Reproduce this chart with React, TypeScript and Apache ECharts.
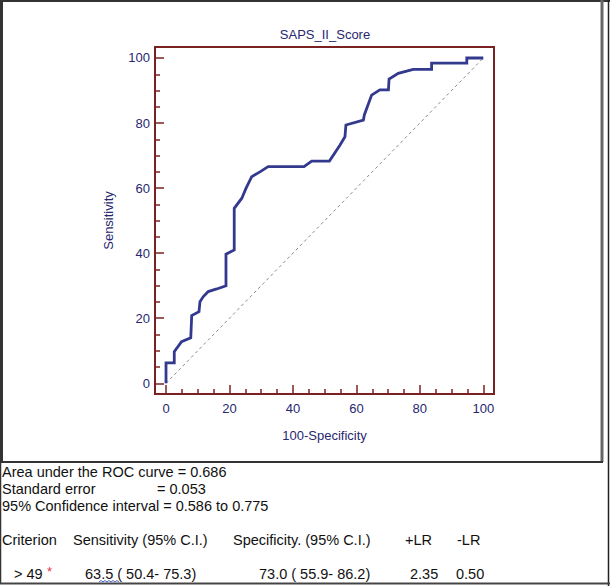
import React, { useEffect, useRef } from "react";
import * as echarts from "echarts";

const chartTitle = "SAPS_II_Score";
const xAxisName = "100-Specificity";
const yAxisName = "Sensitivity";

// ROC curve points (100-Specificity, Sensitivity)
const rocX = [0, 0, 2.6, 2.6, 4.9, 7.8, 8.1, 10.4, 10.7, 11.7, 13.3, 16.0, 18.9, 18.9, 21.5, 21.5, 23.9, 25.2, 27.0, 29.6, 32.2, 43.5, 45.9, 51.5, 54.8, 56.4, 56.7, 62.2, 62.5, 64.8, 67.4, 70.1, 70.3, 73.2, 77.9, 83.7, 83.7, 94.8, 94.8, 100];
const rocY = [0, 6.3, 6.3, 9.7, 12.8, 14.0, 20.8, 22.0, 25.1, 26.6, 28.2, 29.0, 30.0, 39.7, 41.0, 53.8, 56.9, 59.9, 63.5, 65.0, 66.6, 66.6, 68.3, 68.3, 73.2, 75.8, 79.4, 80.9, 82.5, 88.6, 90.2, 90.2, 93.5, 95.3, 96.5, 96.5, 98.4, 98.4, 100, 100];

// reference (chance) line
const diagX = [0, 100];
const diagY = [0, 100];

// tick positions
const majorTicks = [0, 20, 40, 60, 80, 100];
const minorTicks = [5, 10, 15, 25, 30, 35, 45, 50, 55, 65, 70, 75, 85, 90, 95];

// axis extents (plot frame is padded slightly beyond 0..100)
const xMin = -3.47;
const xMax = 103.37;
const yMin = -3.29;
const yMax = 103.38;

const statLines = [
  "Area under the ROC curve = 0.686",
  "Standard error",
  "95% Confidence interval = 0.586 to 0.775",
];
const stdErrValue = "= 0.053";
const tableHeader = ["Criterion", "Sensitivity (95% C.I.)", "Specificity. (95% C.I.)", "+LR", "-LR"];
const tableRow = ["> 49", "63.5 ( 50.4- 75.3)", "73.0 ( 55.9- 86.2)", "2.35", "0.50"];

const NAVY = "#27286f";
const CURVE = "#333a8e";
const MAROON = "#7a2222";
const FONT = "Arial, 'Liberation Sans', sans-serif";

function txt(text: string, x: number, y: number, extra: any = {}) {
  return {
    type: "text",
    x,
    y,
    silent: true,
    z: 20,
    style: {
      text,
      fill: "#111111",
      font: `14.5px ${FONT}`,
      align: "left",
      verticalAlign: "middle",
      textAlign: "left",
      textVerticalAlign: "middle",
      ...extra,
    },
  };
}

function makeAxis(kind: "x" | "y", major: boolean) {
  const isX = kind === "x";
  const base: any = {
    type: "value",
    min: isX ? xMin : yMin,
    max: isX ? xMax : yMax,
    axisLine: { show: false, onZero: false },
    splitLine: { show: false },
    axisTick: {
      show: true,
      inside: true,
      length: major ? 9 : 5,
      customValues: major ? majorTicks : minorTicks,
      lineStyle: { color: MAROON, width: 1.5 },
    },
  };
  if (major) {
    base.name = isX ? xAxisName : yAxisName;
    base.nameLocation = "middle";
    base.nameGap = isX ? 35 : 40;
    if (!isX) base.nameRotate = 90;
    base.nameTextStyle = { color: NAVY, fontSize: 13, fontFamily: FONT };
    base.axisLabel = {
      show: true,
      color: NAVY,
      fontSize: 13,
      margin: isX ? 8 : 5,
      fontFamily: FONT,
      customValues: majorTicks,
    };
  } else {
    base.axisLabel = { show: false };
  }
  base.position = isX ? "bottom" : "left";
  return base;
}

export default function App() {
  const ref = useRef<HTMLDivElement>(null);

  useEffect(() => {
    if (!ref.current) return;
    const chart = echarts.init(ref.current, undefined, { renderer: "svg" });

    const headerX = [2, 73, 233, 405, 457];
    const rowX = [14, 85, 259, 410, 456];

    const option: any = {
      animation: false,
      backgroundColor: "#ffffff",
      title: {
        text: chartTitle,
        left: 325,
        top: 28,
        padding: 0,
        textAlign: "center",
        textStyle: { color: NAVY, fontSize: 13, fontWeight: "normal", fontFamily: FONT },
      },
      grid: { left: 155, right: 116, top: 47, bottom: 192, containLabel: false },
      xAxis: [makeAxis("x", true), makeAxis("x", false)],
      yAxis: [makeAxis("y", true), makeAxis("y", false)],
      series: [
        {
          type: "line",
          data: diagX.map((x, i) => [x, diagY[i]]),
          symbol: "none",
          lineStyle: { color: "#8a8a8a", width: 1, type: [3, 3] },
          z: 2,
          silent: true,
        },
        {
          type: "line",
          data: rocX.map((x, i) => [x, rocY[i]]),
          symbol: "none",
          lineStyle: { color: CURVE, width: 2.8, join: "miter" },
          z: 3,
          silent: true,
        },
      ],
      graphic: [
        // plot frame
        {
          type: "rect",
          silent: true,
          z: 10,
          shape: { x: 155, y: 47, width: 339, height: 347 },
          style: { fill: "none", stroke: MAROON, lineWidth: 2 },
        },
        // outer frames
        { type: "line", silent: true, shape: { x1: 0, y1: 1, x2: 610, y2: 1 }, style: { stroke: "#333", lineWidth: 2 } },
        { type: "line", silent: true, shape: { x1: 1.5, y1: 0, x2: 1.5, y2: 462 }, style: { stroke: "#333", lineWidth: 3 } },
        { type: "line", silent: true, shape: { x1: 602, y1: 0, x2: 602, y2: 462 }, style: { stroke: "#666", lineWidth: 3 } },
        { type: "line", silent: true, shape: { x1: 0, y1: 462, x2: 603, y2: 462 }, style: { stroke: "#333", lineWidth: 2 } },
        { type: "line", silent: true, shape: { x1: 608.5, y1: 0, x2: 608.5, y2: 586 }, style: { stroke: "#222", lineWidth: 1.5 } },
        { type: "line", silent: true, shape: { x1: 0.5, y1: 462, x2: 0.5, y2: 584 }, style: { stroke: "#333", lineWidth: 1.5 } },
        { type: "line", silent: true, shape: { x1: 0, y1: 583.5, x2: 610, y2: 583.5 }, style: { stroke: "#444", lineWidth: 2 } },
        // statistics text
        txt(statLines[0], 2, 472),
        txt(statLines[1], 2, 489),
        txt(stdErrValue, 157, 489),
        txt(statLines[2], 2, 506),
        ...tableHeader.map((t, i) => txt(t, headerX[i], 540)),
        ...tableRow.map((t, i) => txt(t, rowX[i], 574)),
        txt("*", 47, 571, { fill: "#e0393e", font: `13px ${FONT}` }),
        // spell-check squiggle under 50.4
        {
          type: "polyline",
          silent: true,
          z: 20,
          shape: {
            points: [
              [99, 582], [101, 580.5], [103, 582], [105, 580.5], [107, 582], [109, 580.5],
              [111, 582], [113, 580.5], [115, 582], [117, 580.5], [119, 582],
            ],
          },
          style: { stroke: "#4a5fc0", lineWidth: 1, fill: "none" },
        },
      ],
    };

    chart.setOption(option);
    return () => chart.dispose();
  }, []);

  return (
    <div
      ref={ref}
      style={{ position: "absolute", left: 0, top: 0, width: 610, height: 586 }}
    />
  );
}
